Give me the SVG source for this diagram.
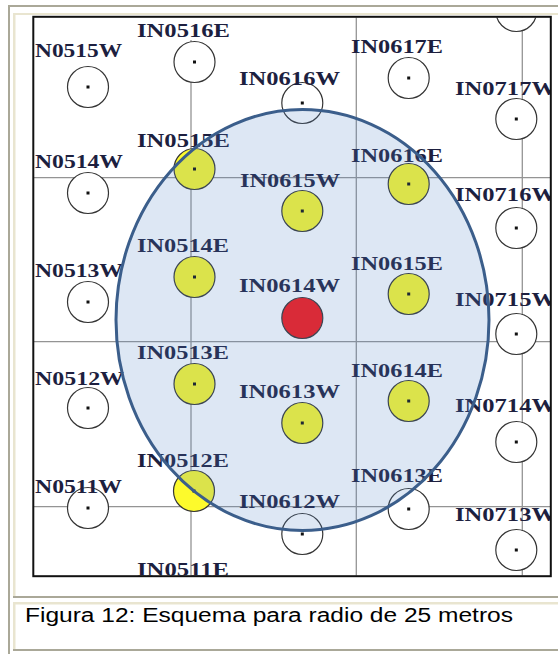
<svg xmlns="http://www.w3.org/2000/svg" width="558" height="654" viewBox="0 0 558 654">
<style>
.lbl{font-family:"Liberation Serif","Times New Roman",serif;font-weight:bold;font-size:18px;fill:#1d1f3f}
.pt{stroke:#353535;stroke-width:1.2}
.w{fill:#ffffff}
.y{fill:#fdfa2c}
.r{fill:#fa1414}
.dot{fill:#111}
.grid{stroke:#949494;stroke-width:1.3;fill:none}
.gray{fill:#aaa898}
.beige{fill:#e9e5d0}
.cap{font-family:"Liberation Sans",Arial,sans-serif;font-size:19.5px;fill:#000}
</style>
<defs>
<clipPath id="clipImg"><rect x="34" y="17.5" width="516" height="558"/></clipPath>
</defs>
<rect x="0" y="0" width="558" height="654" fill="#ffffff"/>
<g id="page-frame">
<rect class="gray" x="8" y="5" width="550" height="2"/>
<rect class="gray" x="8" y="5" width="2" height="649"/>
<rect class="beige" x="13" y="13" width="545" height="2"/>
<rect class="beige" x="13" y="13" width="2.5" height="584"/>
<rect class="gray" x="13" y="596" width="545" height="2"/>
<rect class="beige" x="13" y="602" width="545" height="2.5"/>
<rect class="beige" x="13" y="602" width="2.5" height="48"/>
<rect class="gray" x="13" y="649" width="545" height="2"/>
</g>
<g clip-path="url(#clipImg)">
<g id="connectors">
<line class="grid" x1="191" y1="40" x2="191" y2="580"/>
<line class="grid" x1="356.3" y1="15" x2="356.3" y2="580"/>
<line class="grid" x1="522.3" y1="15" x2="522.3" y2="580"/>
<line class="grid" x1="30" y1="177.7" x2="555" y2="177.7"/>
<line class="grid" x1="30" y1="341.7" x2="555" y2="341.7"/>
<line class="grid" x1="30" y1="506.7" x2="555" y2="506.7"/>
</g>
<g id="N0515W"><circle class="pt w" cx="88" cy="87" r="20.5"/><rect class="dot" x="86.5" y="85.5" width="3" height="3"/><text class="lbl" x="35" y="57" textLength="87" lengthAdjust="spacingAndGlyphs">N0515W</text></g>
<g id="N0514W"><circle class="pt w" cx="88" cy="193" r="20.5"/><rect class="dot" x="86.5" y="191.5" width="3" height="3"/><text class="lbl" x="35" y="168" textLength="88" lengthAdjust="spacingAndGlyphs">N0514W</text></g>
<g id="N0513W"><circle class="pt w" cx="88" cy="302" r="20.5"/><rect class="dot" x="86.5" y="300.5" width="3" height="3"/><text class="lbl" x="35" y="277" textLength="88" lengthAdjust="spacingAndGlyphs">N0513W</text></g>
<g id="N0512W"><circle class="pt w" cx="88" cy="408" r="20.5"/><rect class="dot" x="86.5" y="406.5" width="3" height="3"/><text class="lbl" x="35" y="385" textLength="89" lengthAdjust="spacingAndGlyphs">N0512W</text></g>
<g id="N0511W"><circle class="pt w" cx="88" cy="508" r="20.5"/><rect class="dot" x="86.5" y="506.5" width="3" height="3"/><text class="lbl" x="35" y="493" textLength="87" lengthAdjust="spacingAndGlyphs">N0511W</text></g>
<g id="IN0516E"><circle class="pt w" cx="194.5" cy="62" r="20.5"/><rect class="dot" x="193" y="60.5" width="3" height="3"/><text class="lbl" x="137" y="37" textLength="93" lengthAdjust="spacingAndGlyphs">IN0516E</text></g>
<g id="IN0515E"><circle class="pt y" cx="194.5" cy="169" r="20.5"/><rect class="dot" x="193" y="167.5" width="3" height="3"/><text class="lbl" x="137" y="147" textLength="93" lengthAdjust="spacingAndGlyphs">IN0515E</text></g>
<g id="IN0514E"><circle class="pt y" cx="194.5" cy="277" r="20.5"/><rect class="dot" x="193" y="275.5" width="3" height="3"/><text class="lbl" x="137" y="252" textLength="92" lengthAdjust="spacingAndGlyphs">IN0514E</text></g>
<g id="IN0513E"><circle class="pt y" cx="194.5" cy="384" r="20.5"/><rect class="dot" x="193" y="382.5" width="3" height="3"/><text class="lbl" x="137" y="359" textLength="92" lengthAdjust="spacingAndGlyphs">IN0513E</text></g>
<g id="IN0512E"><circle class="pt y" cx="194" cy="491" r="20.5"/><rect class="dot" x="192.5" y="489.5" width="3" height="3"/><text class="lbl" x="137" y="467" textLength="92" lengthAdjust="spacingAndGlyphs">IN0512E</text></g>
<g id="IN0511E"><text class="lbl" x="137" y="576" textLength="92" lengthAdjust="spacingAndGlyphs">IN0511E</text></g>
<g id="IN0616W"><circle class="pt w" cx="302.3" cy="103" r="20.5"/><rect class="dot" x="300.8" y="101.5" width="3" height="3"/><text class="lbl" x="239" y="85" textLength="101" lengthAdjust="spacingAndGlyphs">IN0616W</text></g>
<g id="IN0615W"><circle class="pt y" cx="302.3" cy="211" r="20.5"/><rect class="dot" x="300.8" y="209.5" width="3" height="3"/><text class="lbl" x="240" y="187" textLength="100" lengthAdjust="spacingAndGlyphs">IN0615W</text></g>
<g id="IN0614W"><circle class="pt r" cx="302.3" cy="318" r="20.5"/><text class="lbl" x="239" y="292" textLength="101" lengthAdjust="spacingAndGlyphs">IN0614W</text></g>
<g id="IN0613W"><circle class="pt y" cx="302.3" cy="423" r="20.5"/><rect class="dot" x="300.8" y="421.5" width="3" height="3"/><text class="lbl" x="239" y="398" textLength="101" lengthAdjust="spacingAndGlyphs">IN0613W</text></g>
<g id="IN0612W"><circle class="pt w" cx="302.3" cy="534" r="20.5"/><rect class="dot" x="300.8" y="532.5" width="3" height="3"/><text class="lbl" x="239" y="508" textLength="101" lengthAdjust="spacingAndGlyphs">IN0612W</text></g>
<g id="IN0617E"><circle class="pt w" cx="408.7" cy="78" r="20.5"/><rect class="dot" x="407.2" y="76.5" width="3" height="3"/><text class="lbl" x="351" y="53" textLength="92" lengthAdjust="spacingAndGlyphs">IN0617E</text></g>
<g id="IN0616E"><circle class="pt y" cx="408.7" cy="184" r="20.5"/><rect class="dot" x="407.2" y="182.5" width="3" height="3"/><text class="lbl" x="351" y="162" textLength="92" lengthAdjust="spacingAndGlyphs">IN0616E</text></g>
<g id="IN0615E"><circle class="pt y" cx="408.7" cy="294" r="20.5"/><rect class="dot" x="407.2" y="292.5" width="3" height="3"/><text class="lbl" x="351" y="270" textLength="92" lengthAdjust="spacingAndGlyphs">IN0615E</text></g>
<g id="IN0614E"><circle class="pt y" cx="408.7" cy="401" r="20.5"/><rect class="dot" x="407.2" y="399.5" width="3" height="3"/><text class="lbl" x="351" y="377" textLength="92" lengthAdjust="spacingAndGlyphs">IN0614E</text></g>
<g id="IN0613E"><circle class="pt w" cx="408.7" cy="509" r="20.5"/><rect class="dot" x="407.2" y="507.5" width="3" height="3"/><text class="lbl" x="351" y="482" textLength="92" lengthAdjust="spacingAndGlyphs">IN0613E</text></g>
<g id="IN0718W"><circle class="pt w" cx="516.3" cy="11" r="20.5"/></g>
<g id="IN0717W"><circle class="pt w" cx="516.3" cy="119" r="20.5"/><rect class="dot" x="514.8" y="117.5" width="3" height="3"/><text class="lbl" x="455" y="95" textLength="101" lengthAdjust="spacingAndGlyphs">IN0717W</text></g>
<g id="IN0716W"><circle class="pt w" cx="516.3" cy="228" r="20.5"/><rect class="dot" x="514.8" y="226.5" width="3" height="3"/><text class="lbl" x="455" y="201" textLength="101" lengthAdjust="spacingAndGlyphs">IN0716W</text></g>
<g id="IN0715W"><circle class="pt w" cx="516.3" cy="334" r="20.5"/><rect class="dot" x="514.8" y="332.5" width="3" height="3"/><text class="lbl" x="455" y="306" textLength="101" lengthAdjust="spacingAndGlyphs">IN0715W</text></g>
<g id="IN0714W"><circle class="pt w" cx="516.3" cy="442" r="20.5"/><rect class="dot" x="514.8" y="440.5" width="3" height="3"/><text class="lbl" x="455" y="412" textLength="101" lengthAdjust="spacingAndGlyphs">IN0714W</text></g>
<g id="IN0713W"><circle class="pt w" cx="516.3" cy="550" r="20.5"/><rect class="dot" x="514.8" y="548.5" width="3" height="3"/><text class="lbl" x="455" y="521" textLength="101" lengthAdjust="spacingAndGlyphs">IN0713W</text></g>
<g id="radius-zone"><ellipse cx="302.5" cy="320" rx="186.5" ry="210.5" fill="#5587c8" fill-opacity="0.2" stroke="#3b5e8b" stroke-width="3"/></g>
</g>
<rect x="33.3" y="16.8" width="517.5" height="559.4" fill="none" stroke="#111" stroke-width="2"/>
<g id="caption"><text class="cap" x="25" y="622" textLength="488" lengthAdjust="spacingAndGlyphs">Figura 12: Esquema para radio de 25 metros</text></g>
</svg>
